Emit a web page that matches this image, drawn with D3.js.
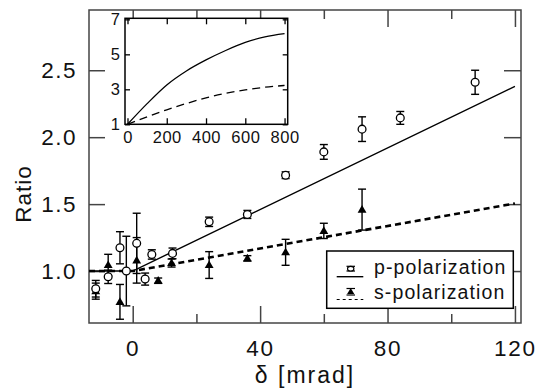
<!DOCTYPE html>
<html><head><meta charset="utf-8">
<script src="https://cdn.jsdelivr.net/npm/d3@7/dist/d3.min.js"></script>
<style>
body{margin:0;background:#fff}
svg{display:block}
text{font-family:"Liberation Sans",Arial,Helvetica,sans-serif;fill:#111}
</style>
</head><body>
<svg id="c" width="549" height="390"></svg>
<script>
// ---- data ----
const pX   = [-11.6, -7.7, -4.0, -2.0, 1.25, 3.9, 6.0, 12.5, 24, 36, 48, 60, 72, 84, 107.5];
const pY   = [0.868, 0.957, 1.174, 1.0, 1.207, 0.94, 1.124, 1.132, 1.368, 1.423, 1.716, 1.89, 2.06, 2.144, 2.41];
const pErr = [0.062, 0.05, 0.12, 0.26, 0.225, 0.045, 0.035, 0.04, 0.035, 0.03, 0.025, 0.055, 0.092, 0.048, 0.09];

const sX   = [-11.6, -7.7, -4.0, 1.25, 8.0, 12.2, 24, 36, 48, 60, 72];
const sY   = [0.85, 1.045, 0.77, 1.08, 0.928, 1.06, 1.045, 1.095, 1.14, 1.30, 1.459];
const sErr = [0.06, 0.08, 0.13, 0.17, 0.02, 0.03, 0.1, 0.02, 0.097, 0.057, 0.153];

const pFitX = [-13.7, 0, 120];
const pFitY = [1, 1, 2.38];
const sFitX = [-13.7, 0, 120];
const sFitY = [1, 1, 1.505];

const insetX = [0, 100, 200, 300, 400, 500, 600, 700, 800];
const insetP = [1.0, 2.18, 3.25, 4.05, 4.68, 5.22, 5.68, 6.0, 6.18];
const insetS = [1.0, 1.43, 1.83, 2.19, 2.51, 2.77, 2.97, 3.12, 3.22];

const xMajor = [0, 40, 80, 120];
const xMinor = [20, 60, 100];
const yTicks = [1.0, 1.5, 2.0, 2.5];
const insetXTicks = [0, 200, 400, 600, 800];
const insetYTicks = [1, 3, 5, 7];
const legendLabels = ["p-polarization", "s-polarization"];

// ---- scales ----
const svg = d3.select("#c");
const L = 89, R = 521, T = 10, B = 323;
const x = d3.scaleLinear().domain([-13.72, 121.9]).range([L, R]);
const y = d3.scaleLinear().domain([0.612, 2.95]).range([B, T]);
const frameColor = "#444";

// frame
svg.append("rect").attr("x", L).attr("y", T).attr("width", R - L).attr("height", B - T)
  .attr("fill", "none").attr("stroke", frameColor).attr("stroke-width", 1.5);

function styleAxis(g) {
  g.select(".domain").remove();
  g.selectAll(".tick line").attr("stroke", frameColor).attr("stroke-width", 1.5);
}
const fmt1 = d3.format(".1f");
const ff = '"Liberation Sans",Arial,sans-serif';
svg.append("g").attr("transform", `translate(0,${B})`)
  .call(d3.axisBottom(x).tickValues(xMajor).tickSizeInner(-17).tickSizeOuter(0).tickPadding(17).tickFormat(d3.format("d")))
  .call(styleAxis)
  .call(g => g.selectAll("text").attr("font-size", 22.5).attr("fill", "#111").attr("letter-spacing", 1.8).attr("font-family", ff));
svg.append("g").attr("transform", `translate(0,${B})`)
  .call(d3.axisBottom(x).tickValues(xMinor).tickSizeInner(-9).tickSizeOuter(0).tickFormat(""))
  .call(styleAxis);
svg.append("g").attr("transform", `translate(0,${T})`)
  .call(d3.axisTop(x).tickValues(xMajor).tickSizeInner(-17).tickSizeOuter(0).tickFormat(""))
  .call(styleAxis);
svg.append("g").attr("transform", `translate(0,${T})`)
  .call(d3.axisTop(x).tickValues(xMinor).tickSizeInner(-9).tickSizeOuter(0).tickFormat(""))
  .call(styleAxis);
svg.append("g").attr("transform", `translate(${L},0)`)
  .call(d3.axisLeft(y).tickValues(yTicks).tickSizeInner(-16).tickSizeOuter(0).tickPadding(12).tickFormat(fmt1))
  .call(styleAxis)
  .call(g => g.selectAll("text").attr("font-size", 22.5).attr("fill", "#111").attr("letter-spacing", 1.5).attr("font-family", ff));
svg.append("g").attr("transform", `translate(${R},0)`)
  .call(d3.axisRight(y).tickValues(yTicks).tickSizeInner(-17).tickSizeOuter(0).tickFormat(""))
  .call(styleAxis);

// axis titles
svg.append("text").attr("x", 305).attr("y", 383).attr("text-anchor", "middle")
  .attr("font-size", 23).attr("letter-spacing", 2).text("δ [mrad]");
svg.append("text").attr("transform", "translate(31,194) rotate(-90)").attr("text-anchor", "middle")
  .attr("font-size", 22.5).attr("letter-spacing", 1).text("Ratio");

// fit lines
const line = d3.line().x(d => x(d[0])).y(d => y(d[1]));
svg.append("path").datum(pFitX.map((v, i) => [v, pFitY[i]])).attr("d", line)
  .attr("fill", "none").attr("stroke", "#000").attr("stroke-width", 1.4);
svg.append("path").datum(sFitX.map((v, i) => [v, sFitY[i]])).attr("d", line)
  .attr("fill", "none").attr("stroke", "#000").attr("stroke-width", 2.6).attr("stroke-dasharray", "6,4");

// error bars
function errBars(xs, ys, es) {
  const g = svg.append("g").attr("stroke", "#000").attr("stroke-width", 1.4);
  xs.forEach((xv, i) => {
    const cx = x(xv), y0 = y(ys[i] - es[i]), y1 = y(ys[i] + es[i]);
    g.append("line").attr("x1", cx).attr("x2", cx).attr("y1", y0).attr("y2", y1);
    g.append("line").attr("x1", cx - 4).attr("x2", cx + 4).attr("y1", y0).attr("y2", y0);
    g.append("line").attr("x1", cx - 4).attr("x2", cx + 4).attr("y1", y1).attr("y2", y1);
  });
}
errBars(sX, sY, sErr);
errBars(pX, pY, pErr);

const tri = d3.symbol().type(d3.symbolTriangle).size(34);
svg.append("g").selectAll("path").data(sX).join("path")
  .attr("transform", (d, i) => `translate(${x(d)},${y(sY[i]) + 0.5})`)
  .attr("d", tri).attr("fill", "#000");
svg.append("g").selectAll("circle").data(pX).join("circle")
  .attr("cx", d => x(d)).attr("cy", (d, i) => y(pY[i])).attr("r", 3.9)
  .attr("fill", "#fff").attr("stroke", "#000").attr("stroke-width", 1.3);

// legend
const lg = svg.append("g");
lg.append("rect").attr("x", 326.7).attr("y", 251).attr("width", 186.6).attr("height", 57.3)
  .attr("fill", "#fff").attr("stroke", "#000").attr("stroke-width", 1.5);
lg.append("line").attr("x1", 336.7).attr("x2", 363.3).attr("y1", 276.7).attr("y2", 276.7)
  .attr("stroke", "#000").attr("stroke-width", 1.4);
lg.append("line").attr("x1", 336.7).attr("x2", 363.3).attr("y1", 299.5).attr("y2", 299.5)
  .attr("stroke", "#000").attr("stroke-width", 1).attr("stroke-dasharray", "3,3");
[[266.3, 271], [288.5, 295]].forEach(([a, b]) => {
  [a, b].forEach(yy => lg.append("line").attr("x1", 346.5).attr("x2", 355).attr("y1", yy).attr("y2", yy)
    .attr("stroke", "#000").attr("stroke-width", 1.2));
});
lg.append("ellipse").attr("cx", 350.7).attr("cy", 268.7).attr("rx", 3.2).attr("ry", 2.3)
  .attr("fill", "#fff").attr("stroke", "#000").attr("stroke-width", 1.1);
lg.append("path").attr("transform", "translate(350.7,292)").attr("d", d3.symbol().type(d3.symbolTriangle).size(22)).attr("fill", "#000");
lg.selectAll("text").data(legendLabels).join("text")
  .attr("x", 374).attr("y", (d, i) => 274 + i * 25.3).attr("font-size", 19.5).attr("letter-spacing", 1.1)
  .text(d => d);

// ---- inset ----
const iL = 125, iR = 287.7, iT = 18.3, iB = 124.3;
const ix = d3.scaleLinear().domain([-12.7, 816]).range([iL, iR]);
const iy = d3.scaleLinear().domain([1, 7.06]).range([iB, iT]);
const ins = svg.append("g");
ins.append("rect").attr("x", iL).attr("y", iT).attr("width", iR - iL).attr("height", iB - iT)
  .attr("fill", "#fff").attr("stroke", "#000").attr("stroke-width", 1.5);
function styleInset(g) {
  g.select(".domain").remove();
  g.selectAll(".tick line").attr("stroke", "#000").attr("stroke-width", 1.3);
}
ins.append("g").attr("transform", `translate(0,${iB})`)
  .call(d3.axisBottom(ix).tickValues(insetXTicks).tickSizeInner(-6).tickSizeOuter(0).tickPadding(7).tickFormat(d3.format("d")))
  .call(styleInset)
  .call(g => g.selectAll("text").attr("font-size", 16.5).attr("fill", "#111").attr("letter-spacing", 0.5).attr("font-family", ff));
ins.append("g").attr("transform", `translate(0,${iT})`)
  .call(d3.axisTop(ix).tickValues(insetXTicks).tickSizeInner(-6).tickSizeOuter(0).tickFormat(""))
  .call(styleInset);
ins.append("g").attr("transform", `translate(${iL},0)`)
  .call(d3.axisLeft(iy).tickValues(insetYTicks).tickSizeInner(-5).tickSizeOuter(0).tickPadding(5).tickFormat(d3.format("d")))
  .call(styleInset)
  .call(g => g.selectAll("text").attr("font-size", 16.5).attr("fill", "#111").attr("font-family", ff));
ins.append("g").attr("transform", `translate(${iR},0)`)
  .call(d3.axisRight(iy).tickValues(insetYTicks).tickSizeInner(-5).tickSizeOuter(0).tickFormat(""))
  .call(styleInset);
const iline = d3.line().x(d => ix(d[0])).y(d => iy(d[1])).curve(d3.curveMonotoneX);
ins.append("path").datum(insetX.map((v, i) => [v, insetP[i]])).attr("d", iline)
  .attr("fill", "none").attr("stroke", "#000").attr("stroke-width", 1.3);
ins.append("path").datum(insetX.map((v, i) => [v, insetS[i]])).attr("d", iline)
  .attr("fill", "none").attr("stroke", "#000").attr("stroke-width", 1.3).attr("stroke-dasharray", "8,5");
</script>
</body></html>
